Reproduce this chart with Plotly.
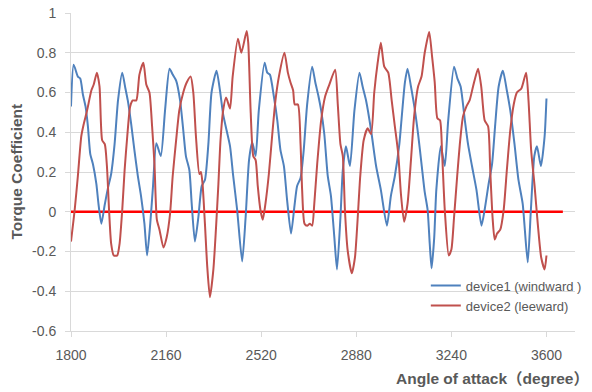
import plotly.graph_objects as go

# ---- data ----
blue_x = [1800, 1810, 1826, 1835, 1845, 1855, 1864, 1873, 1883, 1896, 1904, 1915, 1927, 1940, 1952,
          1965, 1978, 1994, 2006, 2015, 2028, 2040, 2053, 2065, 2078, 2088, 2100, 2110, 2123, 2140,
          2156, 2173, 2185, 2198, 2213, 2225, 2235, 2248, 2257, 2269, 2282, 2295, 2307, 2320, 2332,
          2351, 2364, 2376, 2389, 2402, 2414, 2429, 2448, 2461, 2474, 2486, 2499, 2511, 2533, 2543,
          2553, 2568, 2581, 2593, 2606, 2618, 2633, 2646, 2656, 2669, 2681, 2694, 2713, 2725, 2737,
          2747, 2759, 2772, 2784, 2797, 2807, 2820, 2829, 2841, 2856, 2873, 2892, 2904, 2917, 2936,
          2955, 2973, 2996, 3011, 3026, 3043, 3051, 3064, 3074, 3087, 3102, 3114, 3127, 3139, 3150,
          3158, 3165, 3175, 3183, 3200, 3215, 3228, 3250, 3263, 3275, 3291, 3303, 3318, 3335, 3354,
          3366, 3381, 3394, 3406, 3419, 3435, 3450, 3463, 3479, 3494, 3510, 3529, 3541, 3554, 3564,
          3579, 3593, 3600]
blue_y = [0.53, 0.74, 0.68, 0.67, 0.59, 0.53, 0.43, 0.29, 0.24, 0.14, 0.04, -0.06, 0.03, 0.12, 0.19,
          0.34, 0.56, 0.70, 0.62, 0.56, 0.44, 0.31, 0.18, 0.08, -0.06, -0.22, -0.06, 0.12, 0.345, 0.28,
          0.51, 0.72, 0.69, 0.66, 0.56, 0.41, 0.28, 0.21, 0.04, -0.15, -0.03, 0.13, 0.16, 0.34, 0.60,
          0.71, 0.61, 0.49, 0.41, 0.33, 0.18, 0.01, -0.25, -0.03, 0.26, 0.35, 0.28, 0.51, 0.75, 0.70,
          0.69, 0.58, 0.46, 0.31, 0.23, 0.06, -0.11, 0.03, 0.13, 0.17, 0.31, 0.54, 0.73, 0.65, 0.58,
          0.51, 0.39, 0.18, 0.08, -0.13, -0.29, -0.03, 0.21, 0.33, 0.23, 0.51, 0.70, 0.63, 0.56, 0.41,
          0.23, 0.11, -0.07, 0.08, 0.18, 0.34, 0.46, 0.65, 0.72, 0.63, 0.51, 0.39, 0.24, 0.10, 0.01,
          -0.16, -0.285, -0.13, 0.11, 0.33, 0.23, 0.46, 0.73, 0.67, 0.63, 0.46, 0.34, 0.23, 0.11, -0.07,
          0.01, 0.14, 0.24, 0.44, 0.63, 0.71, 0.61, 0.51, 0.34, 0.16, 0.04, -0.255, 0.01, 0.28, 0.33,
          0.23, 0.38, 0.57]

red_x = [1800, 1814, 1826, 1839, 1848, 1861, 1877, 1886, 1898, 1908, 1918, 1928, 1936, 1944, 1952,
         1962, 1975, 1984, 1994, 2003, 2013, 2024, 2034, 2047, 2059, 2074, 2085, 2097, 2107, 2116,
         2125, 2135, 2150, 2162, 2175, 2185, 2198, 2210, 2225, 2238, 2253, 2263, 2273, 2286, 2292,
         2298, 2307, 2316, 2326, 2339, 2349, 2358, 2366, 2376, 2387, 2402, 2412, 2432, 2445, 2465,
         2471, 2480, 2490, 2499, 2507, 2517, 2526, 2536, 2549, 2562, 2574, 2587, 2608, 2621, 2631,
         2641, 2647, 2659, 2669, 2675, 2684, 2694, 2704, 2713, 2721, 2732, 2747, 2762, 2778, 2800,
         2810, 2820, 2829, 2837, 2847, 2863, 2875, 2885, 2895, 2908, 2923, 2936, 2948, 2961, 2973,
         2986, 3001, 3014, 3026, 3039, 3049, 3061, 3074, 3087, 3099, 3114, 3127, 3139, 3156, 3167,
         3177, 3187, 3197, 3205, 3215, 3230, 3240, 3250, 3262, 3272, 3284, 3297, 3309, 3322, 3341,
         3353, 3366, 3379, 3387, 3396, 3404, 3413, 3425, 3438, 3450, 3463, 3476, 3488, 3505, 3523,
         3532, 3542, 3555, 3567, 3580, 3593, 3600]
red_y = [-0.15, 0.01, 0.18, 0.38, 0.44, 0.51, 0.61, 0.64, 0.70, 0.63, 0.36, 0.34, 0.23, 0.01, -0.16,
         -0.22, -0.22, -0.16, 0.01, 0.21, 0.38, 0.53, 0.56, 0.56, 0.69, 0.75, 0.64, 0.60, 0.43, 0.24,
         -0.04, -0.09, -0.18, -0.13, -0.01, 0.18, 0.36, 0.51, 0.60, 0.65, 0.68, 0.60, 0.38, 0.19, 0.20,
         0.14, -0.06, -0.28, -0.43, -0.29, -0.08, 0.14, 0.36, 0.51, 0.575, 0.52, 0.68, 0.87, 0.80, 0.91,
         0.85, 0.51, 0.28, 0.26, 0.13, 0.01, -0.04, 0.04, 0.19, 0.39, 0.56, 0.68, 0.80, 0.70, 0.65,
         0.61, 0.54, 0.54, 0.34, 0.11, -0.06, -0.07, -0.06, -0.07, 0.04, 0.24, 0.46, 0.58, 0.64, 0.715,
         0.54, 0.34, 0.28, 0.01, -0.19, -0.31, -0.23, -0.04, 0.18, 0.36, 0.42, 0.39, 0.60, 0.75, 0.85,
         0.73, 0.70, 0.56, 0.43, 0.29, 0.09, -0.05, 0.04, 0.26, 0.48, 0.63, 0.68, 0.80, 0.905, 0.78,
         0.65, 0.47, 0.46, 0.29, 0.01, -0.22, -0.19, -0.03, 0.18, 0.34, 0.48, 0.53, 0.56, 0.63, 0.72,
         0.63, 0.46, 0.43, 0.21, -0.03, -0.14, -0.11, -0.09, 0.01, 0.21, 0.41, 0.54, 0.60, 0.62, 0.70,
         0.56, 0.31, 0.13, -0.06, -0.23, -0.29, -0.22]

zero_x = [1800, 3662]
zero_y = [0, 0]

x_ticks = [1800, 2160, 2520, 2880, 3240, 3600]
y_ticks = [-0.6, -0.4, -0.2, 0, 0.2, 0.4, 0.6, 0.8, 1]
y_tick_text = ["-0.6", "-0.4", "-0.2", "0", "0.2", "0.4", "0.6", "0.8", "1"]

FONT = "Liberation Sans, Arial, Noto Sans CJK SC, sans-serif"
GRAY = "#595959"
GRID = "#D9D9D9"

fig = go.Figure()
fig.add_trace(go.Scatter(x=zero_x, y=zero_y, mode="lines", showlegend=False,
                         line=dict(color="#FF0000", width=2.5), hoverinfo="skip"))
fig.add_trace(go.Scatter(x=blue_x, y=blue_y, mode="lines", name="device1 (windward )",
                         line=dict(color="#4F81BD", width=2, shape="spline", smoothing=0.6)))
fig.add_trace(go.Scatter(x=red_x, y=red_y, mode="lines", name="device2 (leeward)",
                         line=dict(color="#C0504D", width=2, shape="spline", smoothing=0.6)))

fig.update_layout(
    width=592, height=392,
    margin=dict(l=71, r=17, t=13, b=61, autoexpand=False),
    paper_bgcolor="white", plot_bgcolor="white",
    font=dict(family=FONT, size=14, color=GRAY),
    legend=dict(x=0.704, y=0.19, xanchor="left", yanchor="top",
                bgcolor="rgba(0,0,0,0)", font=dict(size=13, color=GRAY),
                itemwidth=30, tracegroupgap=0),
    xaxis=dict(range=[1800, 3708], tickvals=x_ticks, showgrid=False, zeroline=False,
               showline=True, linecolor=GRID, linewidth=1, ticks="outside", ticklen=5,
               tickcolor=GRID, tickfont=dict(size=14, color=GRAY), ticklabelstandoff=6,
               automargin=False),
    yaxis=dict(range=[-0.6, 1], tickvals=y_ticks, ticktext=y_tick_text, showgrid=True,
               gridcolor=GRID, gridwidth=1, zeroline=False, showline=True, linecolor=GRID,
               linewidth=1, ticks="outside", ticklen=5, tickcolor=GRID,
               tickfont=dict(size=14, color=GRAY), ticklabelstandoff=6, automargin=False),
    annotations=[
        dict(text="<b>Torque Coefficient</b>", xref="paper", yref="paper",
             x=-0.11, y=0.5, xanchor="center", yanchor="middle", textangle=-90,
             showarrow=False, font=dict(size=15.5, color=GRAY, family=FONT)),
        dict(text="<b>Angle of attack（degree）</b>", xref="paper", yref="paper",
             x=1.0317, y=-0.148, xanchor="right", yanchor="middle",
             showarrow=False, font=dict(size=15.5, color=GRAY, family=FONT)),
    ],
)

fig.write_html("out.html", config={"displayModeBar": False},
               post_script="document.body.style.margin='0';")
